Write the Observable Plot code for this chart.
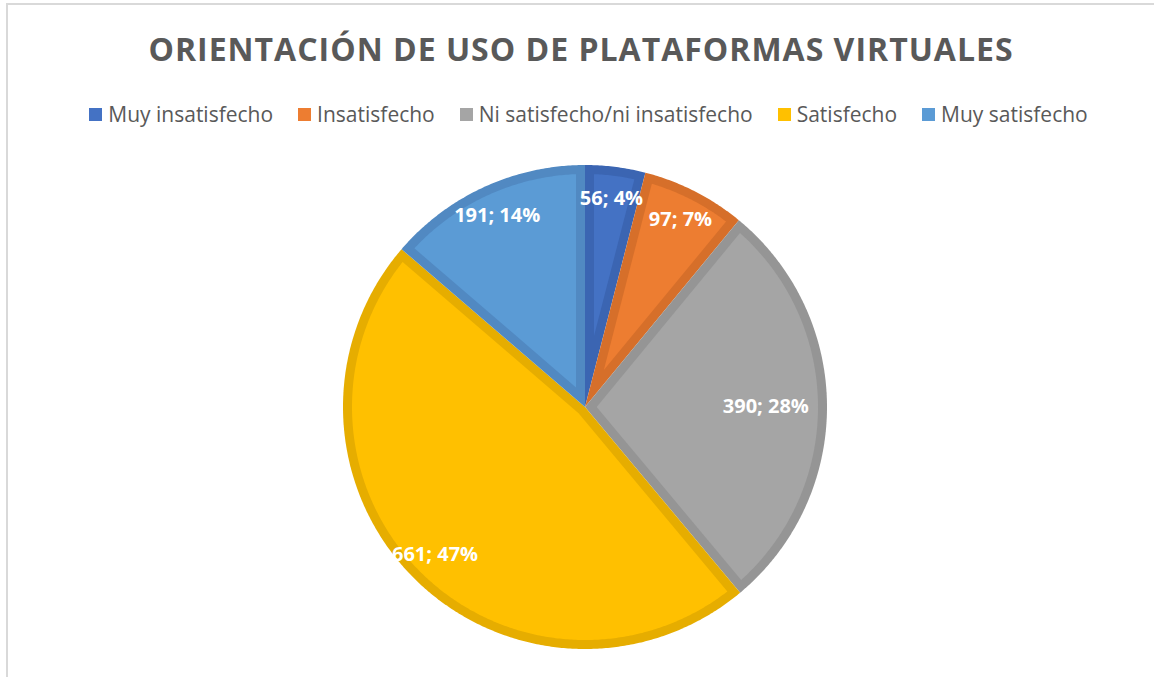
<!DOCTYPE html>
<html>
<head>
<meta charset="utf-8">
<script src="https://cdn.jsdelivr.net/npm/d3@7"></script>
<script src="https://cdn.jsdelivr.net/npm/@observablehq/plot@0.6"></script>
<style>
  html, body { margin: 0; padding: 0; background: #fff; }
  #wrap { position: relative; width: 1154px; height: 677px; overflow: hidden; font-family: "Open Sans", sans-serif; }
  #frame { position: absolute; left: 6px; top: 3px; width: 1200px; height: 700px; border-left: 2px solid #d9d9d9; border-top: 2px solid #d9d9d9; box-sizing: border-box; }
  #title { position: absolute; left: 0; width: 1162px; top: 33px; line-height: 32px; font-size: 32px; font-weight: 700; color: #595959; text-align: center; letter-spacing: 1px; white-space: nowrap; }
  #legend { position: absolute; left: 0; width: 1177px; top: 101px; height: 26px; display: flex; justify-content: center; align-items: center; font-size: 21px; color: #595959; white-space: nowrap; }
  .item { display: flex; align-items: center; margin: 0 12.5px; }
  .sw { width: 13px; height: 13px; margin-right: 6px; margin-top: 1px; }
  #chart { position: absolute; left: 0; top: 130px; }
</style>
</head>
<body>
<div id="wrap">
  <div id="frame"></div>
  <div id="title"></div>
  <div id="legend"></div>
  <div id="chart"></div>
</div>
<script>
// ---- data ----
const categories = ["Muy insatisfecho", "Insatisfecho", "Ni satisfecho/ni insatisfecho", "Satisfecho", "Muy satisfecho"];
const values = [56, 97, 390, 661, 191];
const percentLabels = ["4%", "7%", "28%", "47%", "14%"];
const fillColors = ["#4472C4", "#ED7D31", "#A5A5A5", "#FFC000", "#5B9BD5"];
const borderColors = ["#3B65B2", "#D66F2A", "#959595", "#E6AD00", "#5189C2"];
const titleText = "ORIENTACIÓN DE USO DE PLATAFORMAS VIRTUALES";

// ---- layout ----
const W = 1154, H = 547;
const cx = 584.5, cy = 276.5, R = 242, inset = 9;
const labelFont = "bold 20px 'Open Sans'";

document.getElementById("title").textContent = titleText;
const legend = document.getElementById("legend");
categories.forEach((c, i) => {
  const it = document.createElement("div");
  it.className = "item";
  const sw = document.createElement("div");
  sw.className = "sw";
  sw.style.background = fillColors[i];
  const tx = document.createElement("span");
  tx.textContent = c;
  it.appendChild(sw); it.appendChild(tx);
  legend.appendChild(it);
});

const arcs = d3.pie().sort(null).value(d => d)(values);
const pt = (r, a) => [cx + r * Math.sin(a), cy - r * Math.cos(a)];

function wedge(a0, a1, r, d) {
  const pts = [];
  let apex, s0 = a0, s1 = a1, rr = r;
  if (d > 0) {
    const half = (a1 - a0) / 2;
    apex = pt(d / Math.sin(half), a0 + half);
    rr = r - d;
    const phi = Math.asin(d / rr);
    s0 = a0 + phi; s1 = a1 - phi;
  } else {
    apex = [cx, cy];
  }
  pts.push(apex);
  const n = Math.max(2, Math.ceil((s1 - s0) / (Math.PI / 360)));
  for (let k = 0; k <= n; k++) pts.push(pt(rr, s0 + (s1 - s0) * k / n));
  pts.push(apex);
  return pts;
}

const outer = [], inner = [];
arcs.forEach((a, i) => {
  wedge(a.startAngle, a.endAngle, R, 0).forEach(([x, y]) => outer.push({x, y, cat: categories[i], color: borderColors[i]}));
  wedge(a.startAngle, a.endAngle, R, inset).forEach(([x, y]) => inner.push({x, y, cat: categories[i], color: fillColors[i]}));
});

// label positions: on the bisector at 0.87R, pulled inward if the text clearly overflows the pie
const ctx = document.createElement("canvas").getContext("2d");
ctx.font = labelFont;
const labels = arcs.map((a, i) => {
  const text = `${values[i]}; ${percentLabels[i]}`;
  const w = ctx.measureText(text).width;
  const mid = (a.startAngle + a.endAngle) / 2;
  let r = 0.87 * R;
  const edgeX = r * Math.sin(mid) + Math.sign(Math.sin(mid)) * w / 2;
  const edgeY = -r * Math.cos(mid);
  if (Math.hypot(edgeX, edgeY) - R > 10) {
    const target = 0.925 * R;
    r = (Math.sqrt(target * target - edgeY * edgeY) - w / 2) / Math.abs(Math.sin(mid));
  }
  const [x, y] = pt(r, mid);
  return {x, y, text};
});

const chart = Plot.plot({
  width: W,
  height: H,
  margin: 0,
  x: {domain: [0, W], range: [0, W], axis: null},
  y: {domain: [0, H], range: [0, H], axis: null},
  style: {background: "transparent", overflow: "visible"},
  marks: [
    Plot.line(outer, {x: "x", y: "y", z: "cat", fill: "color", stroke: null, curve: "linear"}),
    Plot.line(inner, {x: "x", y: "y", z: "cat", fill: "color", stroke: null, curve: "linear"}),
    Plot.text(labels, {x: "x", y: "y", text: "text", fill: "white", fontSize: 20, fontWeight: "bold", fontFamily: "Open Sans", textAnchor: "middle", lineAnchor: "middle"})
  ]
});
document.getElementById("chart").appendChild(chart);
</script>
</body>
</html>
